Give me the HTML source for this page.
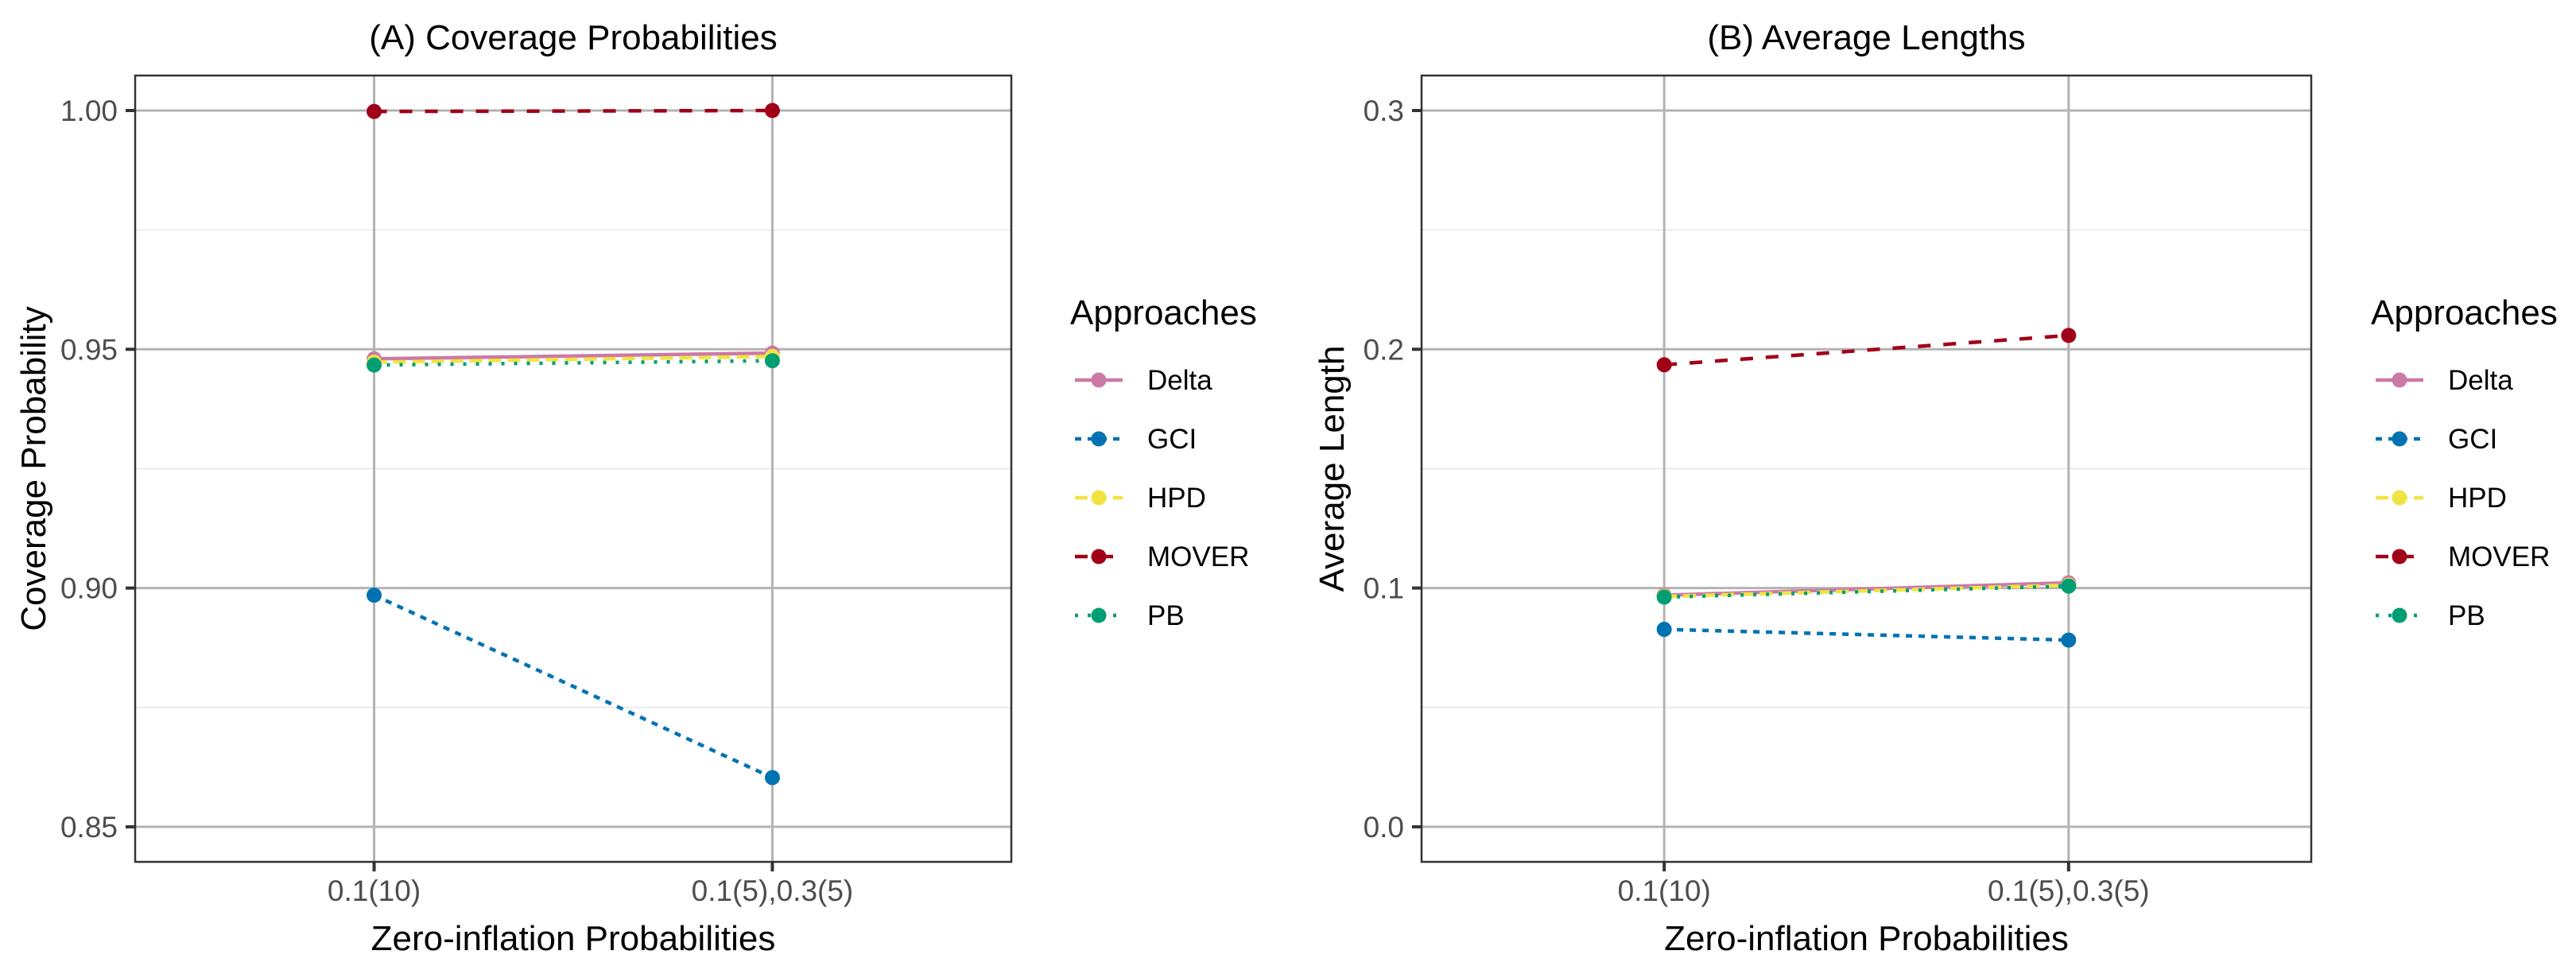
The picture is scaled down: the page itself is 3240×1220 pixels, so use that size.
<!DOCTYPE html>
<html><head><meta charset="utf-8"><style>html,body{margin:0;padding:0;background:#fff}svg{display:block}</style></head>
<body>
<svg id="chart" width="3240" height="1220" xmlns="http://www.w3.org/2000/svg" font-family="Liberation Sans, sans-serif"></svg>
<script>
const categories = ["0.1(10)", "0.1(5),0.3(5)"];
const seriesNames = ["Delta", "GCI", "HPD", "MOVER", "PB"];
const coverageDelta = [0.9480, 0.9492];
const coverageGCI = [0.8985, 0.8603];
const coverageHPD = [0.9473, 0.9485];
const coverageMOVER = [0.9998, 1.0000];
const coveragePB = [0.9467, 0.9476];
const lengthDelta = [0.0970, 0.1022];
const lengthGCI = [0.0827, 0.0782];
const lengthHPD = [0.0965, 0.1012];
const lengthMOVER = [0.1935, 0.2058];
const lengthPB = [0.0962, 0.1008];
const coverageTicks = [0.85, 0.90, 0.95, 1.00];
const coverageTickLabels = ["0.85", "0.90", "0.95", "1.00"];
const coverageMinor = [0.875, 0.925, 0.975];
const lengthTicks = [0.0, 0.1, 0.2, 0.3];
const lengthTickLabels = ["0.0", "0.1", "0.2", "0.3"];
const lengthMinor = [0.05, 0.15, 0.25];

const colors = ["#CC79A7", "#0072B2", "#F0E442", "#A00018", "#009E73"];
const dashes = ["", "8,8", "16,8", "16,16", "4,12"];
const NS = "http://www.w3.org/2000/svg";
const svg = document.getElementById("chart");
function mk(tag, attrs, parent, text) {
  const e = document.createElementNS(NS, tag);
  for (const k in attrs) e.setAttribute(k, attrs[k]);
  if (text !== undefined) e.textContent = text;
  (parent || svg).appendChild(e);
  return e;
}

function panel(cfg) {
  const g = mk("g", {});
  
  
  const L = cfg.left, R = cfg.right, T = 95, B = 1084;
  const unit = (R - L) / 2.2;
  const xs = i => L + (0.6 + i) * unit;
  const y = v => cfg.yTop + (cfg.vTop - v) * cfg.pxPer;
  // minor grid
  cfg.minor.forEach(v => {
    const l = mk("line", {x1: L, x2: R, y1: y(v), y2: y(v), stroke: "#ebebeb", "stroke-width": 2}, g);
    
    
  });
  cfg.ticks.forEach((v, i) => {
    const l = mk("line", {x1: L, x2: R, y1: y(v), y2: y(v), stroke: "#b3b3b3", "stroke-width": 3}, g);
    
    
    const t = mk("line", {x1: L - 12, x2: L, y1: y(v), y2: y(v), stroke: "#333", "stroke-width": 4}, g);
    
    
    const tx = mk("text", {x: L - 22, y: y(v) + 13, "text-anchor": "end", "font-size": 37, fill: "#4d4d4d"}, g, cfg.tickLabels[i]);
    
    
  });
  categories.forEach((c, i) => {
    const l = mk("line", {x1: xs(i), x2: xs(i), y1: T, y2: B, stroke: "#b3b3b3", "stroke-width": 3}, g);
    
    
    const t = mk("line", {x1: xs(i), x2: xs(i), y1: B, y2: B + 12, stroke: "#333", "stroke-width": 4}, g);
    
    
    const tx = mk("text", {x: xs(i), y: B + 49, "text-anchor": "middle", "font-size": 37, fill: "#4d4d4d"}, g, c);
    
    
  });
  cfg.series.forEach((vals, s) => {
    const pl = mk("polyline", {points: vals.map((v, i) => xs(i) + "," + y(v)).join(" "), fill: "none", stroke: colors[s], "stroke-width": 4.5, "stroke-dasharray": dashes[s]}, g);
    
    
    vals.forEach((v, i) => {
      const c = mk("circle", {cx: xs(i), cy: y(v), r: 9.5, fill: colors[s]}, g);
      
      
    });
  });
  const border = mk("rect", {x: L, y: T, width: R - L, height: B - T, fill: "none", stroke: "#333", "stroke-width": 2.5}, g);
  
  
  const title = mk("text", {x: (L + R) / 2, y: 62, "text-anchor": "middle", "font-size": 44, fill: "#000"}, g, cfg.title);
  
  
  const xt = mk("text", {x: (L + R) / 2, y: 1195, "text-anchor": "middle", "font-size": 44, fill: "#000"}, g, "Zero-inflation Probabilities");
  
  
  const yt = mk("text", {x: 0, y: 0, "text-anchor": "middle", "font-size": 44, fill: "#000", transform: "translate(" + cfg.yTitleX + "," + ((T + B) / 2) + ") rotate(-90)"}, g, cfg.yTitle);
  
  
  // legend
  const lg = mk("g", {}, g);
  
  
  const lt = mk("text", {x: cfg.legX, y: 408, "font-size": 44, fill: "#000"}, lg, "Approaches");
  
  
  seriesNames.forEach((n, s) => {
    const ey = 478 + s * 74;
    const eg = mk("g", {}, lg);
    
    
    mk("line", {x1: cfg.legX + 6, x2: cfg.legX + 66, y1: ey, y2: ey, stroke: colors[s], "stroke-width": 4.5, "stroke-dasharray": dashes[s]}, eg);
    mk("circle", {cx: cfg.legX + 36, cy: ey, r: 9.5, fill: colors[s]}, eg);
    mk("text", {x: cfg.legX + 97, y: ey + 12, "font-size": 35, fill: "#000"}, eg, n);
  });
}

panel({name: "coverage-panel", left: 170, right: 1272, yTop: 139, vTop: 1.00, pxPer: 6006,
  ticks: coverageTicks, tickLabels: coverageTickLabels, minor: coverageMinor,
  series: [coverageDelta, coverageGCI, coverageHPD, coverageMOVER, coveragePB],
  title: "(A) Coverage Probabilities", yTitle: "Coverage Probability", yTitleX: 57, legX: 1346});
panel({name: "length-panel", left: 1788, right: 2907, yTop: 139, vTop: 0.3, pxPer: 3003,
  ticks: lengthTicks, tickLabels: lengthTickLabels, minor: lengthMinor,
  series: [lengthDelta, lengthGCI, lengthHPD, lengthMOVER, lengthPB],
  title: "(B) Average Lengths", yTitle: "Average Length", yTitleX: 1690, legX: 2982});
</script>
</body></html>
